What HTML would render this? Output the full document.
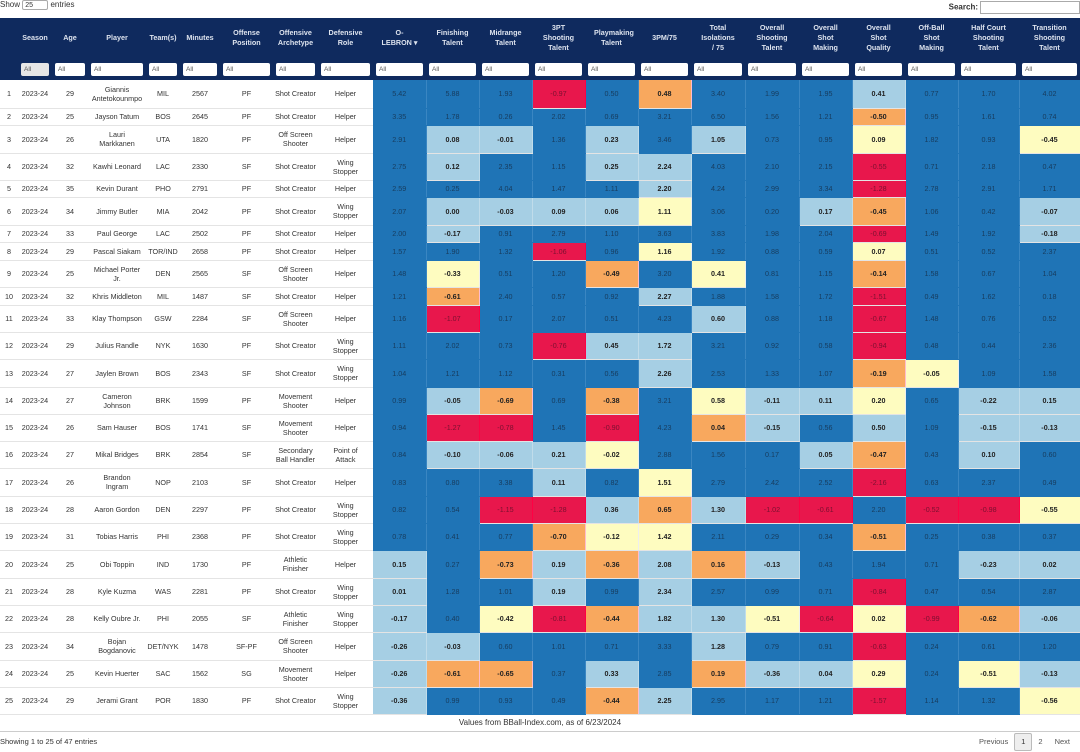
<!DOCTYPE html>
<html><head><meta charset="utf-8"><style>
*{box-sizing:border-box;margin:0;padding:0}
body{width:1080px;height:752px;background:#fff;font-family:"Liberation Sans",sans-serif;color:#333;position:relative;overflow:hidden}
.top{position:absolute;top:0;left:0;font-size:8px;line-height:10px}
.top span{display:inline-block;width:26px;height:10px;border:1px solid #aaa;border-radius:2px;vertical-align:middle;font-size:7px;padding-left:2px}
.srch{position:absolute;top:1px;right:0;font-size:8px;font-weight:bold}
.srch span{display:inline-block;width:100px;height:13px;border:1px solid #aaa;vertical-align:middle;margin-left:2px}
table{position:absolute;top:18px;left:0;width:1080px;border-collapse:collapse;table-layout:fixed;font-size:7.2px;text-align:center}
th{background:#0f2a5e;color:#dde3ee;font-weight:bold;height:40px;line-height:10px;padding:0 9px}
tr.f td{background:#0f2a5e;height:22px;padding:0 3px;border:none}
tr.f td div{background:#fff;height:13px;border-radius:2px;text-align:left;padding-left:3px;font-size:6.5px;line-height:13px;color:#555}
td{border-bottom:1px solid #e4e4e4;line-height:9px;padding:0 1px;overflow:hidden}
td.p{padding:0 6px}
td.n{white-space:nowrap;padding:0}
td.b{background:#1f74b6;color:#173c5e;border-bottom:1px solid #1f74b6;border-right:1px solid #3a86c2}
td.l{background:#a6cfe4;color:#222;font-weight:bold;border-right:1px solid #c0dcea}
td.y{background:#fefcc0;color:#222;font-weight:bold;border-right:1px solid #eee}
td.o{background:#f8a85e;color:#222;font-weight:bold;border-right:1px solid #fbc}
td.r{background:#e8174c;color:#7a1030;border-right:1px solid #f04}
.cap{position:absolute;top:714px;left:0;width:1080px;height:18px;text-align:center;font-size:8px;line-height:18px;border-bottom:1px solid #ccc}
.show{position:absolute;top:737px;left:0;font-size:7.5px}
.pg{position:absolute;top:733px;right:4px;font-size:7.5px;color:#555}
.pg span{display:inline-block;padding:0 6px;line-height:16px}
.pg .c{border:1px solid #bbb;background:#eee;border-radius:2px;color:#333}
</style></head><body>
<div class="top">Show <span>25</span> entries</div>
<div class="srch">Search:<span></span></div>
<table>
<colgroup><col style="width:18px"><col style="width:34px"><col style="width:36px"><col style="width:58px"><col style="width:34px"><col style="width:40px"><col style="width:53px"><col style="width:45px"><col style="width:55px"><col style="width:53px"><col style="width:53px"><col style="width:53px"><col style="width:53px"><col style="width:53px"><col style="width:53px"><col style="width:54px"><col style="width:54px"><col style="width:53px"><col style="width:53px"><col style="width:53px"><col style="width:61px"><col style="width:61px"></colgroup>
<tr><th style="padding:0"></th><th style="padding:0 2px">Season</th><th style="padding:0 2px">Age</th><th>Player</th><th style="padding:0 2px">Team(s)</th><th style="padding:0 2px">Minutes</th><th>Offense Position</th><th style="padding:0 3px">Offensive Archetype</th><th>Defensive Role</th><th style="padding:0 4px">O-<br>LEBRON ▾</th><th>Finishing Talent</th><th>Midrange Talent</th><th>3PT Shooting Talent</th><th>Playmaking Talent</th><th>3PM/75</th><th>Total Isolations / 75</th><th>Overall Shooting Talent</th><th>Overall Shot Making</th><th>Overall Shot Quality</th><th>Off-Ball Shot Making</th><th style="padding:0 12px">Half Court Shooting Talent</th><th style="padding:0 12px">Transition Shooting Talent</th></tr>
<tr class="f"><td></td><td><div style="background:#e6e6e6">All</div></td><td><div>All</div></td><td><div>All</div></td><td><div>All</div></td><td><div>All</div></td><td><div>All</div></td><td><div>All</div></td><td><div>All</div></td><td><div>All</div></td><td><div>All</div></td><td><div>All</div></td><td><div>All</div></td><td><div>All</div></td><td><div>All</div></td><td><div>All</div></td><td><div>All</div></td><td><div>All</div></td><td><div>All</div></td><td><div>All</div></td><td><div>All</div></td><td><div>All</div></td></tr>
<tr style="height:28px"><td>1</td><td>2023-24</td><td>29</td><td class=n>Giannis<br>Antetokounmpo</td><td>MIL</td><td>2567</td><td>PF</td><td>Shot Creator</td><td class=p>Helper</td><td class=b>5.42</td><td class=b>5.88</td><td class=b>1.93</td><td class=r>-0.97</td><td class=b>0.50</td><td class=o>0.48</td><td class=b>3.40</td><td class=b>1.99</td><td class=b>1.95</td><td class=l>0.41</td><td class=b>0.77</td><td class=b>1.70</td><td class=b>4.02</td></tr>
<tr style="height:17px"><td>2</td><td>2023-24</td><td>25</td><td class=n>Jayson Tatum</td><td>BOS</td><td>2645</td><td>PF</td><td>Shot Creator</td><td class=p>Helper</td><td class=b>3.35</td><td class=b>1.78</td><td class=b>0.26</td><td class=b>2.02</td><td class=b>0.69</td><td class=b>3.21</td><td class=b>6.50</td><td class=b>1.56</td><td class=b>1.21</td><td class=o>-0.50</td><td class=b>0.95</td><td class=b>1.61</td><td class=b>0.74</td></tr>
<tr style="height:28px"><td>3</td><td>2023-24</td><td>26</td><td class=n>Lauri<br>Markkanen</td><td>UTA</td><td>1820</td><td>PF</td><td>Off Screen Shooter</td><td class=p>Helper</td><td class=b>2.91</td><td class=l>0.08</td><td class=l>-0.01</td><td class=b>1.36</td><td class=l>0.23</td><td class=b>3.46</td><td class=l>1.05</td><td class=b>0.73</td><td class=b>0.95</td><td class=y>0.09</td><td class=b>1.82</td><td class=b>0.93</td><td class=y>-0.45</td></tr>
<tr style="height:27px"><td>4</td><td>2023-24</td><td>32</td><td class=n>Kawhi Leonard</td><td>LAC</td><td>2330</td><td>SF</td><td>Shot Creator</td><td class=p>Wing Stopper</td><td class=b>2.75</td><td class=l>0.12</td><td class=b>2.35</td><td class=b>1.15</td><td class=l>0.25</td><td class=l>2.24</td><td class=b>4.03</td><td class=b>2.10</td><td class=b>2.15</td><td class=r>-0.55</td><td class=b>0.71</td><td class=b>2.18</td><td class=b>0.47</td></tr>
<tr style="height:17px"><td>5</td><td>2023-24</td><td>35</td><td class=n>Kevin Durant</td><td>PHO</td><td>2791</td><td>PF</td><td>Shot Creator</td><td class=p>Helper</td><td class=b>2.59</td><td class=b>0.25</td><td class=b>4.04</td><td class=b>1.47</td><td class=b>1.11</td><td class=l>2.20</td><td class=b>4.24</td><td class=b>2.99</td><td class=b>3.34</td><td class=r>-1.28</td><td class=b>2.78</td><td class=b>2.91</td><td class=b>1.71</td></tr>
<tr style="height:28px"><td>6</td><td>2023-24</td><td>34</td><td class=n>Jimmy Butler</td><td>MIA</td><td>2042</td><td>PF</td><td>Shot Creator</td><td class=p>Wing Stopper</td><td class=b>2.07</td><td class=l>0.00</td><td class=l>-0.03</td><td class=l>0.09</td><td class=l>0.06</td><td class=y>1.11</td><td class=b>3.06</td><td class=b>0.20</td><td class=l>0.17</td><td class=o>-0.45</td><td class=b>1.06</td><td class=b>0.42</td><td class=l>-0.07</td></tr>
<tr style="height:17px"><td>7</td><td>2023-24</td><td>33</td><td class=n>Paul George</td><td>LAC</td><td>2502</td><td>PF</td><td>Shot Creator</td><td class=p>Helper</td><td class=b>2.00</td><td class=l>-0.17</td><td class=b>0.91</td><td class=b>2.79</td><td class=b>1.10</td><td class=b>3.63</td><td class=b>3.83</td><td class=b>1.98</td><td class=b>2.04</td><td class=r>-0.69</td><td class=b>1.49</td><td class=b>1.92</td><td class=l>-0.18</td></tr>
<tr style="height:18px"><td>8</td><td>2023-24</td><td>29</td><td class=n>Pascal Siakam</td><td>TOR/IND</td><td>2658</td><td>PF</td><td>Shot Creator</td><td class=p>Helper</td><td class=b>1.57</td><td class=b>1.90</td><td class=b>1.32</td><td class=r>-1.06</td><td class=b>0.96</td><td class=y>1.16</td><td class=b>1.92</td><td class=b>0.88</td><td class=b>0.59</td><td class=y>0.07</td><td class=b>0.51</td><td class=b>0.52</td><td class=b>2.37</td></tr>
<tr style="height:27px"><td>9</td><td>2023-24</td><td>25</td><td class=n>Michael Porter<br>Jr.</td><td>DEN</td><td>2565</td><td>SF</td><td>Off Screen Shooter</td><td class=p>Helper</td><td class=b>1.48</td><td class=y>-0.33</td><td class=b>0.51</td><td class=b>1.20</td><td class=o>-0.49</td><td class=b>3.20</td><td class=y>0.41</td><td class=b>0.81</td><td class=b>1.15</td><td class=o>-0.14</td><td class=b>1.58</td><td class=b>0.67</td><td class=b>1.04</td></tr>
<tr style="height:18px"><td>10</td><td>2023-24</td><td>32</td><td class=n>Khris Middleton</td><td>MIL</td><td>1487</td><td>SF</td><td>Shot Creator</td><td class=p>Helper</td><td class=b>1.21</td><td class=o>-0.61</td><td class=b>2.40</td><td class=b>0.57</td><td class=b>0.92</td><td class=l>2.27</td><td class=b>1.88</td><td class=b>1.58</td><td class=b>1.72</td><td class=r>-1.51</td><td class=b>0.49</td><td class=b>1.62</td><td class=b>0.18</td></tr>
<tr style="height:27px"><td>11</td><td>2023-24</td><td>33</td><td class=n>Klay Thompson</td><td>GSW</td><td>2284</td><td>SF</td><td>Off Screen Shooter</td><td class=p>Helper</td><td class=b>1.16</td><td class=r>-1.07</td><td class=b>0.17</td><td class=b>2.07</td><td class=b>0.51</td><td class=b>4.23</td><td class=l>0.60</td><td class=b>0.88</td><td class=b>1.18</td><td class=r>-0.67</td><td class=b>1.48</td><td class=b>0.76</td><td class=b>0.52</td></tr>
<tr style="height:27px"><td>12</td><td>2023-24</td><td>29</td><td class=n>Julius Randle</td><td>NYK</td><td>1630</td><td>PF</td><td>Shot Creator</td><td class=p>Wing Stopper</td><td class=b>1.11</td><td class=b>2.02</td><td class=b>0.73</td><td class=r>-0.76</td><td class=l>0.45</td><td class=l>1.72</td><td class=b>3.21</td><td class=b>0.92</td><td class=b>0.58</td><td class=r>-0.94</td><td class=b>0.48</td><td class=b>0.44</td><td class=b>2.36</td></tr>
<tr style="height:28px"><td>13</td><td>2023-24</td><td>27</td><td class=n>Jaylen Brown</td><td>BOS</td><td>2343</td><td>SF</td><td>Shot Creator</td><td class=p>Wing Stopper</td><td class=b>1.04</td><td class=b>1.21</td><td class=b>1.12</td><td class=b>0.31</td><td class=b>0.56</td><td class=l>2.26</td><td class=b>2.53</td><td class=b>1.33</td><td class=b>1.07</td><td class=o>-0.19</td><td class=y>-0.05</td><td class=b>1.09</td><td class=b>1.58</td></tr>
<tr style="height:27px"><td>14</td><td>2023-24</td><td>27</td><td class=n>Cameron<br>Johnson</td><td>BRK</td><td>1599</td><td>PF</td><td>Movement Shooter</td><td class=p>Helper</td><td class=b>0.99</td><td class=l>-0.05</td><td class=o>-0.69</td><td class=b>0.69</td><td class=o>-0.38</td><td class=b>3.21</td><td class=y>0.58</td><td class=l>-0.11</td><td class=l>0.11</td><td class=y>0.20</td><td class=b>0.65</td><td class=l>-0.22</td><td class=l>0.15</td></tr>
<tr style="height:27px"><td>15</td><td>2023-24</td><td>26</td><td class=n>Sam Hauser</td><td>BOS</td><td>1741</td><td>SF</td><td>Movement Shooter</td><td class=p>Helper</td><td class=b>0.94</td><td class=r>-1.27</td><td class=r>-0.78</td><td class=b>1.45</td><td class=r>-0.90</td><td class=b>4.23</td><td class=o>0.04</td><td class=l>-0.15</td><td class=b>0.56</td><td class=l>0.50</td><td class=b>1.09</td><td class=l>-0.15</td><td class=l>-0.13</td></tr>
<tr style="height:27px"><td>16</td><td>2023-24</td><td>27</td><td class=n>Mikal Bridges</td><td>BRK</td><td>2854</td><td>SF</td><td>Secondary Ball Handler</td><td class=p>Point of Attack</td><td class=b>0.84</td><td class=l>-0.10</td><td class=l>-0.06</td><td class=l>0.21</td><td class=y>-0.02</td><td class=b>2.88</td><td class=b>1.56</td><td class=b>0.17</td><td class=l>0.05</td><td class=o>-0.47</td><td class=b>0.43</td><td class=l>0.10</td><td class=b>0.60</td></tr>
<tr style="height:28px"><td>17</td><td>2023-24</td><td>26</td><td class=n>Brandon<br>Ingram</td><td>NOP</td><td>2103</td><td>SF</td><td>Shot Creator</td><td class=p>Helper</td><td class=b>0.83</td><td class=b>0.80</td><td class=b>3.38</td><td class=l>0.11</td><td class=b>0.82</td><td class=y>1.51</td><td class=b>2.79</td><td class=b>2.42</td><td class=b>2.52</td><td class=r>-2.16</td><td class=b>0.63</td><td class=b>2.37</td><td class=b>0.49</td></tr>
<tr style="height:27px"><td>18</td><td>2023-24</td><td>28</td><td class=n>Aaron Gordon</td><td>DEN</td><td>2297</td><td>PF</td><td>Shot Creator</td><td class=p>Wing Stopper</td><td class=b>0.82</td><td class=b>0.54</td><td class=r>-1.15</td><td class=r>-1.28</td><td class=l>0.36</td><td class=o>0.65</td><td class=l>1.30</td><td class=r>-1.02</td><td class=r>-0.61</td><td class=b>2.20</td><td class=r>-0.52</td><td class=r>-0.98</td><td class=y>-0.55</td></tr>
<tr style="height:27px"><td>19</td><td>2023-24</td><td>31</td><td class=n>Tobias Harris</td><td>PHI</td><td>2368</td><td>PF</td><td>Shot Creator</td><td class=p>Wing Stopper</td><td class=b>0.78</td><td class=b>0.41</td><td class=b>0.77</td><td class=o>-0.70</td><td class=y>-0.12</td><td class=y>1.42</td><td class=b>2.11</td><td class=b>0.29</td><td class=b>0.34</td><td class=o>-0.51</td><td class=b>0.25</td><td class=b>0.38</td><td class=b>0.37</td></tr>
<tr style="height:28px"><td>20</td><td>2023-24</td><td>25</td><td class=n>Obi Toppin</td><td>IND</td><td>1730</td><td>PF</td><td>Athletic Finisher</td><td class=p>Helper</td><td class=l>0.15</td><td class=b>0.27</td><td class=o>-0.73</td><td class=l>0.19</td><td class=o>-0.36</td><td class=l>2.08</td><td class=o>0.16</td><td class=l>-0.13</td><td class=b>0.43</td><td class=b>1.94</td><td class=b>0.71</td><td class=l>-0.23</td><td class=l>0.02</td></tr>
<tr style="height:27px"><td>21</td><td>2023-24</td><td>28</td><td class=n>Kyle Kuzma</td><td>WAS</td><td>2281</td><td>PF</td><td>Shot Creator</td><td class=p>Wing Stopper</td><td class=l>0.01</td><td class=b>1.28</td><td class=b>1.01</td><td class=l>0.19</td><td class=b>0.99</td><td class=l>2.34</td><td class=b>2.57</td><td class=b>0.99</td><td class=b>0.71</td><td class=r>-0.84</td><td class=b>0.47</td><td class=b>0.54</td><td class=b>2.87</td></tr>
<tr style="height:27px"><td>22</td><td>2023-24</td><td>28</td><td class=n>Kelly Oubre Jr.</td><td>PHI</td><td>2055</td><td>SF</td><td>Athletic Finisher</td><td class=p>Wing Stopper</td><td class=l>-0.17</td><td class=b>0.40</td><td class=y>-0.42</td><td class=r>-0.81</td><td class=o>-0.44</td><td class=l>1.82</td><td class=l>1.30</td><td class=y>-0.51</td><td class=r>-0.64</td><td class=y>0.02</td><td class=r>-0.99</td><td class=o>-0.62</td><td class=l>-0.06</td></tr>
<tr style="height:28px"><td>23</td><td>2023-24</td><td>34</td><td class=n>Bojan<br>Bogdanovic</td><td>DET/NYK</td><td>1478</td><td>SF-PF</td><td>Off Screen Shooter</td><td class=p>Helper</td><td class=l>-0.26</td><td class=l>-0.03</td><td class=b>0.60</td><td class=b>1.01</td><td class=b>0.71</td><td class=b>3.33</td><td class=l>1.28</td><td class=b>0.79</td><td class=b>0.91</td><td class=r>-0.63</td><td class=b>0.24</td><td class=b>0.61</td><td class=b>1.20</td></tr>
<tr style="height:27px"><td>24</td><td>2023-24</td><td>25</td><td class=n>Kevin Huerter</td><td>SAC</td><td>1562</td><td>SG</td><td>Movement Shooter</td><td class=p>Helper</td><td class=l>-0.26</td><td class=o>-0.61</td><td class=o>-0.65</td><td class=b>0.37</td><td class=l>0.33</td><td class=b>2.85</td><td class=o>0.19</td><td class=l>-0.36</td><td class=l>0.04</td><td class=y>0.29</td><td class=b>0.24</td><td class=y>-0.51</td><td class=l>-0.13</td></tr>
<tr style="height:27px"><td>25</td><td>2023-24</td><td>29</td><td class=n>Jerami Grant</td><td>POR</td><td>1830</td><td>PF</td><td>Shot Creator</td><td class=p>Wing Stopper</td><td class=l>-0.36</td><td class=b>0.99</td><td class=b>0.93</td><td class=b>0.49</td><td class=o>-0.44</td><td class=l>2.25</td><td class=b>2.95</td><td class=b>1.17</td><td class=b>1.21</td><td class=r>-1.57</td><td class=b>1.14</td><td class=b>1.32</td><td class=y>-0.56</td></tr>
</table>
<div class="cap">Values from BBall-Index.com, as of 6/23/2024</div>
<div class="show">Showing 1 to 25 of 47 entries</div>
<div class="pg"><span>Previous</span><span class="c">1</span><span>2</span><span>Next</span></div>
</body></html>
